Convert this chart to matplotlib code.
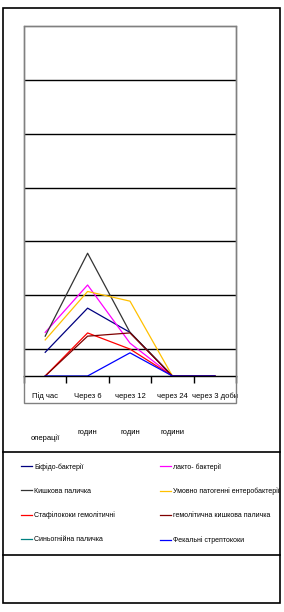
import numpy as np
import matplotlib
matplotlib.use("Agg")
import matplotlib.pyplot as plt
from matplotlib.lines import Line2D
from matplotlib.patches import Rectangle

plt.rcParams['font.family'] = ['Liberation Sans Narrow', 'Liberation Sans', 'DejaVu Sans']
plt.rcParams['font.stretch'] = 'condensed'

# time points
categories = ["Під час\nоперації", "Через 6\nгодин", "через 12\nгодин",
              "через 24\nгодини", "через 3 доби"]

# series (arbitrary units)
bifido = [4.4, 12.6, 8.1, 0, 0]
lakto = [8.1, 16.9, 6.1, 0, 0]
kyshkova = [7.4, 22.8, 8.1, 0, 0]
umovno = [6.7, 15.7, 13.9, 0, 0]
stafilo = [0, 8.0, 5.0, 0, 0]
hemolit = [0, 7.4, 8.0, 0, 0]
synyogn = [0, 0, 0, 0, 0]
fekalni = [0, 0, 4.3, 0, 0]

names = ["Біфідо-бактерії", "лакто- бактерії", "Кишкова паличка",
         "Умовно патогенні ентеробактерії", "Стафілококи гемолітичні",
         "гемолітична кишкова паличка", "Синьогнійна паличка",
         "Фекальні стрептококи"]
series = [bifido, lakto, kyshkova, umovno, stafilo, hemolit, synyogn, fekalni]
colors = ["#000080", "#FF00FF", "#333333", "#FFC000",
          "#FF0000", "#800000", "#008080", "#0000FF"]

W, H = 284, 612
fig = plt.figure(figsize=(W / 100, H / 100), dpi=100)

def fx(px):
    return px / W

def fy(py):
    return 1 - py / H

# outer frame and dividers
fig.add_artist(Rectangle((fx(3), fy(603)), fx(277), (603 - 8) / H, transform=fig.transFigure,
                         fill=False, ec="black", lw=1.2))
for yy in [452, 555]:
    fig.add_artist(Line2D([fx(3), fx(280)], [fy(yy), fy(yy)], transform=fig.transFigure,
                          color="black", lw=1.2))
# plot area border
fig.add_artist(Rectangle((fx(24), fy(403)), fx(212), (403 - 26) / H, transform=fig.transFigure,
                         fill=False, ec="#808080", lw=1.0))

ax = fig.add_axes([fx(24), fy(376), fx(212), (376 - 26) / H])
x = np.arange(len(categories))
handles = []
for s, c, n in zip(series, colors, names):
    ln, = ax.plot(x, s, color=c, lw=0.9, label=n)
    handles.append(ln)

ax.set_xlim(-0.5, len(categories) - 0.5)
ax.set_ylim(0, 65)
ax.set_yticks([])
for yv in [5, 15, 25, 35, 45, 55]:
    ax.axhline(yv, color="black", lw=1.0, zorder=0)
for sp in ["left", "right", "top"]:
    ax.spines[sp].set_color("#808080")
    ax.spines[sp].set_linewidth(1.0)
ax.spines["bottom"].set_color("black")
ax.spines["bottom"].set_linewidth(1.0)

ax.set_xticks(x)
ax.set_xticklabels(categories, fontsize=5.5, linespacing=6.8, va="top")
ax.tick_params(axis="x", which="major", length=0, pad=12)
ax.set_xticks(np.arange(len(categories) + 1) - 0.5, minor=True)
ax.tick_params(axis="x", which="minor", length=5, width=1.0, color="black", direction="out")

# legend: two columns placed separately
leg_kw = dict(loc="upper left", frameon=False, fontsize=5.0, handlelength=1.6,
              handletextpad=0.3, labelspacing=2.45, borderaxespad=0)
left_idx = [0, 2, 4, 6]
right_idx = [1, 3, 5, 7]
fig.legend([handles[i] for i in left_idx], [names[i] for i in left_idx],
           bbox_to_anchor=(fx(18), fy(460)), **leg_kw)
fig.legend([handles[i] for i in right_idx], [names[i] for i in right_idx],
           bbox_to_anchor=(fx(157), fy(460)), **leg_kw)

fig.savefig("out.png", dpi=100)
